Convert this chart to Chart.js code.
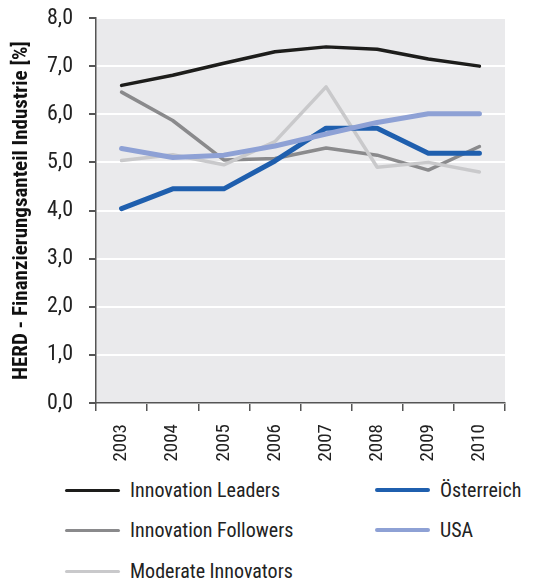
<!DOCTYPE html>
<html>
<head>
<meta charset="utf-8">
<script src="https://cdn.jsdelivr.net/npm/chart.js@4/dist/chart.umd.min.js"></script>
<style>
  html,body{margin:0;padding:0;background:#fff;}
  #wrap{position:relative;width:536px;height:581px;}
  #chart-box{position:absolute;left:0;top:0;width:536px;height:470px;}
  #legend{position:absolute;left:0;top:470px;width:536px;height:111px;
    font-family:"Roboto Condensed","Liberation Sans Narrow",Lato,sans-serif;
    font-size:20px;color:#222;}
  .lg-item{position:absolute;height:24px;line-height:24px;white-space:nowrap;}
  .lg-line{position:absolute;left:0;top:50%;width:55px;border-radius:3px;}
  .lg-text{position:absolute;left:65px;top:0;}
</style>
</head>
<body>
<div id="wrap">
  <div id="chart-box"><canvas id="herd-chart"></canvas></div>
  <div id="legend"></div>
</div>
<script>
const years = ["2003", "2004", "2005", "2006", "2007", "2008", "2009", "2010"];
const yTicks = [0, 1, 2, 3, 4, 5, 6, 7, 8];

const leaders   = [6.60, 6.81, 7.06, 7.30, 7.40, 7.35, 7.15, 7.00];
const followers = [6.46, 5.87, 5.05, 5.08, 5.30, 5.15, 4.84, 5.33];
const moderate  = [5.04, 5.16, 4.95, 5.43, 6.57, 4.90, 5.00, 4.80];
const austria   = [4.04, 4.45, 4.45, 5.03, 5.71, 5.71, 5.19, 5.19];
const usa       = [5.29, 5.10, 5.15, 5.34, 5.59, 5.83, 6.01, 6.01];

(function(){
    const font = '"Roboto Condensed","Liberation Sans Narrow",Lato,sans-serif';
    const canvas = document.getElementById("herd-chart");

    const line = (label, data, color, width, order) => ({
        label: label,
        data: data,
        borderColor: color,
        backgroundColor: color,
        borderWidth: width,
        pointRadius: 0,
        borderCapStyle: "round",
        borderJoinStyle: "round",
        tension: 0,
        order: order
    });

    const plotBg = {
        id: "plotBg",
        beforeDraw(chart){
            const a = chart.chartArea, ctx = chart.ctx;
            ctx.save();
            ctx.fillStyle = "#eaeaec";
            ctx.fillRect(a.left, a.top, a.right - a.left, a.bottom - a.top);
            ctx.restore();
        }
    };

    // legend in two columns, built from the datasets
    const legendPos = [
        {left: 65, top: 20},   // Innovation Leaders
        {left: 65, top: 60},   // Innovation Followers
        {left: 65, top: 101},  // Moderate Innovators
        {left: 375, top: 20},  // Österreich
        {left: 375, top: 60}   // USA
    ];
    const htmlLegend = {
        id: "htmlLegend",
        afterUpdate(chart){
            const box = document.getElementById("legend");
            box.innerHTML = "";
            chart.data.datasets.forEach((ds, i) => {
                const item = document.createElement("div");
                item.className = "lg-item";
                item.style.left = legendPos[i].left + "px";
                item.style.top = (legendPos[i].top - 12) + "px";
                const ln = document.createElement("div");
                ln.className = "lg-line";
                const h = ds.borderWidth - 0.5;
                ln.style.background = ds.borderColor;
                ln.style.height = h + "px";
                ln.style.marginTop = (-h / 2) + "px";
                const tx = document.createElement("span");
                tx.className = "lg-text";
                tx.textContent = ds.label;
                item.appendChild(ln);
                item.appendChild(tx);
                box.appendChild(item);
            });
        }
    };

    new Chart(canvas, {
        type: "line",
        data: {
            labels: years,
            datasets: [
                line("Innovation Leaders", leaders, "#1d1d1b", 3.5, 5),
                line("Innovation Followers", followers, "#8a8a8c", 3.5, 4),
                line("Moderate Innovators", moderate, "#c9c9cb", 3.5, 3),
                line("Österreich", austria, "#1f5fae", 5, 2),
                line("USA", usa, "#8ea1d5", 5, 1)
            ]
        },
        options: {
            responsive: true,
            maintainAspectRatio: false,
            animation: false,
            layout: {padding: {top: 18, right: 31, left: 0, bottom: 0}},
            plugins: {
                legend: {display: false},
                tooltip: {enabled: false}
            },
            scales: {
                x: {
                    offset: true,
                    grid: {
                        offset: true,
                        drawOnChartArea: false,
                        tickColor: "#555",
                        tickLength: 8,
                        lineWidth: 1.5
                    },
                    border: {color: "#555", width: 1.5},
                    ticks: {
                        minRotation: 90,
                        maxRotation: 90,
                        padding: 13,
                        color: "#222",
                        font: {family: font, size: 19}
                    },
                    afterFit(scale){
                        scale.height = 67;
                        scale.paddingLeft = 0;
                        scale.paddingRight = 0;
                    }
                },
                y: {
                    min: 0,
                    max: 8,
                    afterBuildTicks(scale){ scale.ticks = yTicks.map(v => ({value: v})); },
                    grid: {
                        color: "#ffffff",
                        lineWidth: 2,
                        tickColor: "#555",
                        tickLength: 7
                    },
                    border: {color: "#555", width: 1.5},
                    ticks: {
                        padding: 16,
                        color: "#222",
                        font: {family: font, size: 22},
                        callback: v => v.toFixed(1).replace(".", ",")
                    },
                    title: {
                        display: true,
                        text: "HERD - Finanzierungsanteil Industrie [%]",
                        color: "#111",
                        padding: {top: 9, bottom: 0},
                        font: {family: font, size: 21, weight: "bold"}
                    },
                    afterFit(scale){
                        scale.width = 96;
                        scale.paddingTop = 0;
                        scale.paddingBottom = 0;
                    }
                }
            }
        },
        plugins: [plotBg, htmlLegend]
    });
})();
</script>
</body>
</html>
